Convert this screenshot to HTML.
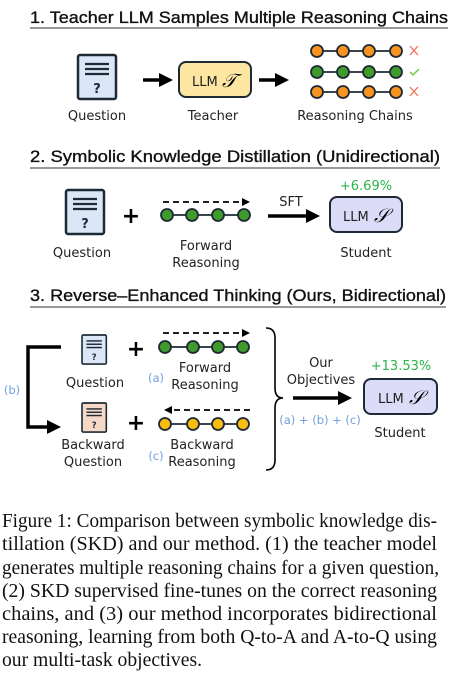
<!DOCTYPE html>
<html><head><meta charset="utf-8"><style>
html,body{margin:0;padding:0;background:#fff;}
svg{display:block;}
.h{font-family:"Liberation Sans","DejaVu Sans",sans-serif;font-size:17px;fill:#111;stroke:#111;stroke-width:0.35;}
.l{font-family:"DejaVu Sans","Liberation Sans",sans-serif;font-size:13px;fill:#222;}
.s{font-family:"DejaVu Sans","Liberation Sans",sans-serif;font-size:11.5px;fill:#6fa0dd;}
.c{font-family:"Liberation Serif",serif;font-size:19.5px;fill:#111;}
</style></head><body>
<svg width="452" height="674" viewBox="0 0 452 674" xmlns="http://www.w3.org/2000/svg">
<defs>
<marker id="ah" markerWidth="4" markerHeight="4" refX="2" refY="2" orient="auto" markerUnits="strokeWidth"><path d="M0,0 L4,2 L0,4 z" fill="#000"/></marker>
<marker id="ad" markerWidth="8" markerHeight="8" refX="6" refY="4" orient="auto" markerUnits="userSpaceOnUse"><path d="M0,0 L8,4 L0,8 z" fill="#000"/></marker>
<g id="doc"><rect x="0" y="0" width="38" height="44" rx="2" fill="#dbe7f7" stroke="#1d2a36" stroke-width="2.5"/>
<line x1="7" y1="9" x2="31" y2="9" stroke="#1d2a36" stroke-width="2.2"/><line x1="7" y1="14" x2="31" y2="14" stroke="#1d2a36" stroke-width="2.2"/><line x1="7" y1="19" x2="31" y2="19" stroke="#1d2a36" stroke-width="2.2"/>
<text x="19" y="38" text-anchor="middle" font-family="DejaVu Sans,sans-serif" font-weight="bold" font-size="13" fill="#1d2a36">?</text></g>
</defs>
<!-- Section 1 -->
<text x="30" y="23" class="h" textLength="418" lengthAdjust="spacingAndGlyphs">1. Teacher LLM Samples Multiple Reasoning Chains</text>
<line x1="30" y1="28" x2="448" y2="28" stroke="#333" stroke-width="1"/>
<use href="#doc" x="78" y="55"/>
<text x="97" y="120" class="l" text-anchor="middle">Question</text>
<line x1="143" y1="80" x2="166" y2="80" stroke="#000" stroke-width="3.5" marker-end="url(#ah)"/>
<rect x="179" y="62" width="72" height="35" rx="7" fill="#fde6a2" stroke="#1d2a36" stroke-width="2"/>
<text x="192" y="86" class="l">LLM</text><text x="222" y="87" font-family="Liberation Serif,serif" font-style="italic" font-size="19">𝒯</text>
<text x="213" y="120" class="l" text-anchor="middle">Teacher</text>
<line x1="259" y1="80" x2="282" y2="80" stroke="#000" stroke-width="3.5" marker-end="url(#ah)"/>
<g stroke="#1d2a36" stroke-width="1.8">
<line x1="317" y1="51" x2="396" y2="51"/><line x1="317" y1="72" x2="396" y2="72"/><line x1="317" y1="92" x2="396" y2="92"/>
<g fill="#f7931e"><circle cx="317" cy="51" r="6"/><circle cx="343" cy="51" r="6"/><circle cx="369" cy="51" r="6"/><circle cx="396" cy="51" r="6"/>
<circle cx="317" cy="92" r="6"/><circle cx="343" cy="92" r="6"/><circle cx="369" cy="92" r="6"/><circle cx="396" cy="92" r="6"/></g>
<g fill="#3f9b2b"><circle cx="317" cy="72" r="6"/><circle cx="343" cy="72" r="6"/><circle cx="369" cy="72" r="6"/><circle cx="396" cy="72" r="6"/></g>
</g>
<g stroke="#f0705a" stroke-width="1.3"><path d="M410,46 l8,9 M418,46 l-8,9"/><path d="M410,87 l8,9 M418,87 l-8,9"/></g>
<path d="M410,72 l3,3 l6,-6" stroke="#7ac843" stroke-width="1.5" fill="none"/>
<text x="355" y="120" class="l" text-anchor="middle">Reasoning Chains</text>
<!-- Section 2 -->
<text x="30" y="162" class="h" textLength="410" lengthAdjust="spacingAndGlyphs">2. Symbolic Knowledge Distillation (Unidirectional)</text>
<line x1="30" y1="168" x2="440" y2="168" stroke="#333" stroke-width="1"/>
<use href="#doc" x="66" y="190"/>
<text x="82" y="257" class="l" text-anchor="middle">Question</text>
<text x="131" y="223" font-family="DejaVu Sans,sans-serif" font-weight="bold" font-size="22" text-anchor="middle">+</text>
<line x1="163" y1="202" x2="248" y2="202" stroke="#000" stroke-width="1.8" stroke-dasharray="6,4" marker-end="url(#ad)"/>
<g stroke="#1d2a36" stroke-width="1.8"><line x1="167" y1="215" x2="244" y2="215"/>
<g fill="#3f9b2b"><circle cx="167" cy="215" r="6"/><circle cx="192" cy="215" r="6"/><circle cx="218" cy="215" r="6"/><circle cx="244" cy="215" r="6"/></g></g>
<text x="206" y="250" class="l" text-anchor="middle">Forward</text><text x="206" y="267" class="l" text-anchor="middle">Reasoning</text>
<text x="291" y="206" class="l" text-anchor="middle" font-size="14">SFT</text>
<line x1="268" y1="216" x2="313" y2="216" stroke="#000" stroke-width="3.5" marker-end="url(#ah)"/>
<text x="366" y="190" class="l" style="fill:#2bb34a" font-size="14" text-anchor="middle">+6.69%</text>
<rect x="330" y="197" width="72" height="35" rx="7" fill="#dcdcf8" stroke="#1d2a36" stroke-width="2"/>
<text x="343" y="221" class="l">LLM</text><text x="374" y="222" font-family="Liberation Serif,serif" font-style="italic" font-size="19">𝒮</text>
<text x="366" y="257" class="l" text-anchor="middle">Student</text>
<!-- Section 3 -->
<text x="30" y="301" class="h" textLength="416" lengthAdjust="spacingAndGlyphs">3. Reverse–Enhanced Thinking (Ours, Bidirectional)</text>
<line x1="30" y1="307" x2="446" y2="307" stroke="#333" stroke-width="1"/>
<g transform="translate(82,335) scale(0.64,0.66)"><use href="#doc"/></g>
<g transform="translate(82,403) scale(0.64,0.66)"><rect x="0" y="0" width="38" height="44" rx="2" fill="#f7d9c8" stroke="#1d2a36" stroke-width="2.5"/>
<line x1="7" y1="9" x2="31" y2="9" stroke="#1d2a36" stroke-width="2.2"/><line x1="7" y1="14" x2="31" y2="14" stroke="#1d2a36" stroke-width="2.2"/><line x1="7" y1="19" x2="31" y2="19" stroke="#1d2a36" stroke-width="2.2"/>
<text x="19" y="38" text-anchor="middle" font-family="DejaVu Sans,sans-serif" font-weight="bold" font-size="13" fill="#1d2a36">?</text></g>
<text x="95" y="387" class="l" text-anchor="middle">Question</text>
<text x="93" y="449" class="l" text-anchor="middle">Backward</text><text x="93" y="466" class="l" text-anchor="middle">Question</text>
<path d="M61,347 H28 V427 H54" stroke="#000" stroke-width="3.5" fill="none" marker-end="url(#ah)"/>
<text x="12" y="394" class="s" text-anchor="middle">(b)</text>
<text x="136" y="356" font-family="DejaVu Sans,sans-serif" font-weight="bold" font-size="22" text-anchor="middle">+</text>
<text x="136" y="430" font-family="DejaVu Sans,sans-serif" font-weight="bold" font-size="22" text-anchor="middle">+</text>
<line x1="163" y1="333" x2="248" y2="333" stroke="#000" stroke-width="1.8" stroke-dasharray="6,4" marker-end="url(#ad)"/>
<g stroke="#1d2a36" stroke-width="1.8"><line x1="165" y1="347" x2="243" y2="347"/>
<g fill="#3f9b2b"><circle cx="165" cy="347" r="6"/><circle cx="193" cy="347" r="6"/><circle cx="218" cy="347" r="6"/><circle cx="243" cy="347" r="6"/></g></g>
<line x1="250" y1="410" x2="166" y2="410" stroke="#000" stroke-width="1.8" stroke-dasharray="6,4" marker-end="url(#ad)"/>
<g stroke="#1d2a36" stroke-width="1.8"><line x1="165" y1="424" x2="243" y2="424"/>
<g fill="#fbbb0f"><circle cx="165" cy="424" r="6"/><circle cx="193" cy="424" r="6"/><circle cx="218" cy="424" r="6"/><circle cx="243" cy="424" r="6"/></g></g>
<text x="156" y="382" class="s" text-anchor="middle">(a)</text>
<text x="205" y="372" class="l" text-anchor="middle">Forward</text><text x="205" y="389" class="l" text-anchor="middle">Reasoning</text>
<text x="156" y="460" class="s" text-anchor="middle">(c)</text>
<text x="202" y="449" class="l" text-anchor="middle">Backward</text><text x="202" y="466" class="l" text-anchor="middle">Reasoning</text>
<path d="M266,328 Q275,328 275,338 V388 Q275,398 283,398 Q275,398 275,408 V460 Q275,470 266,470" stroke="#000" stroke-width="1.6" fill="none"/>
<text x="321" y="367" class="l" text-anchor="middle">Our</text><text x="321" y="384" class="l" text-anchor="middle">Objectives</text>
<line x1="293" y1="398" x2="345" y2="398" stroke="#000" stroke-width="3.5" marker-end="url(#ah)"/>
<text x="320" y="424" class="s" text-anchor="middle">(a) + (b) + (c)</text>
<text x="401" y="370" class="l" style="fill:#2bb34a" font-size="14" text-anchor="middle">+13.53%</text>
<rect x="364" y="379" width="73" height="35" rx="7" fill="#dcdcf8" stroke="#1d2a36" stroke-width="2"/>
<text x="378" y="403" class="l">LLM</text><text x="409" y="404" font-family="Liberation Serif,serif" font-style="italic" font-size="19">𝒮</text>
<text x="400" y="437" class="l" text-anchor="middle">Student</text>
<!-- Caption -->
<text class="c" x="2" y="527" textLength="435" lengthAdjust="spacingAndGlyphs">Figure 1: Comparison between symbolic knowledge dis-</text>
<text class="c" x="2" y="550" textLength="435" lengthAdjust="spacingAndGlyphs">tillation (SKD) and our method. (1) the teacher model</text>
<text class="c" x="2" y="574" textLength="437" lengthAdjust="spacingAndGlyphs">generates multiple reasoning chains for a given question,</text>
<text class="c" x="2" y="597" textLength="435" lengthAdjust="spacingAndGlyphs">(2) SKD supervised fine-tunes on the correct reasoning</text>
<text class="c" x="2" y="620" textLength="435" lengthAdjust="spacingAndGlyphs">chains, and (3) our method incorporates bidirectional</text>
<text class="c" x="2" y="643" textLength="435" lengthAdjust="spacingAndGlyphs">reasoning, learning from both Q-to-A and A-to-Q using</text>
<text class="c" x="2" y="666" textLength="200" lengthAdjust="spacingAndGlyphs">our multi-task objectives.</text>
</svg>
</body></html>
